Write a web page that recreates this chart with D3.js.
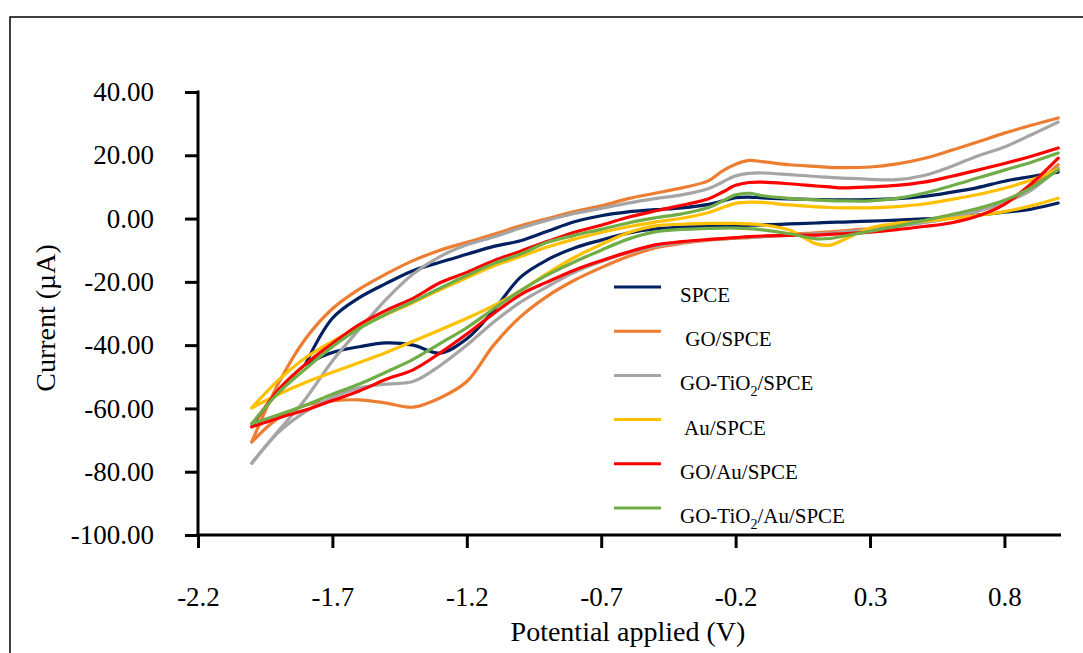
<!DOCTYPE html>
<html>
<head>
<meta charset="utf-8">
<script src="https://cdn.jsdelivr.net/npm/d3@7"></script>
<style>
  html, body { margin: 0; padding: 0; background: #fff; }
  svg { display: block; }
  text { font-family: "Liberation Serif", "Times New Roman", serif; fill: #000; }
</style>
</head>
<body>
<svg id="chart" width="1083" height="653"></svg>
<script>
// ---------- data ----------
const potential = [-2.0, -1.9, -1.8, -1.7, -1.6, -1.5, -1.4, -1.3, -1.2, -1.1, -1.0, -0.9, -0.8, -0.7, -0.6, -0.5, -0.4, -0.3, -0.25, -0.2, -0.15, -0.1, 0.0, 0.1, 0.15, 0.2, 0.3, 0.4, 0.5, 0.6, 0.7, 0.8, 0.9, 1.0];

const seriesNames = ["SPCE", " GO/SPCE", "GO-TiO2/SPCE", " Au/SPCE", "GO/Au/SPCE", "GO-TiO2/Au/SPCE"];
const seriesColors = ["#002060", "#ED7D31", "#A5A5A5", "#FFC000", "#FF0000", "#70AD47"];

// forward (upper) scan, current in µA
const spceFwd = [null, null, -46, -31.5, -25, -20.5, -16.5, -13.8, -11.3, -8.8, -7.0, -4.0, -1.0, 0.9, 2.1, 2.8, 3.4, 4.5, 5.5, 6.6, 6.8, 6.5, 6.2, 6.0, 5.9, 5.9, 6.0, 6.3, 7.0, 8.3, 9.8, 11.8, 13.3, 14.7];
const goFwd = [-70.6, -52, -38, -28.5, -22.3, -17.5, -13.3, -10, -7.5, -5, -2.3, 0, 2.2, 4, 6.3, 8, 9.7, 12, 15, 17.2, 18.4, 18, 17, 16.5, 16.2, 16.1, 16.3, 17.3, 19, 21.5, 24.2, 27, 29.5, 31.8];
const goTiFwd = [-77.3, -67, -57, -45, -35, -25.5, -17.5, -12, -8.3, -5.8, -3.0, -0.5, 1.6, 3.2, 4.9, 6.3, 7.5, 9.5, 11.5, 13.5, 14.3, 14.4, 13.9, 13.3, 13.0, 12.8, 12.4, 12.3, 13.6, 16.4, 19.8, 22.6, 26.5, 30.5];
const auFwd = [-59.8, -51, -44, -38.8, -34.3, -30.3, -26.5, -22.5, -18.7, -15, -12, -9, -6.5, -4.4, -2.6, -1.1, 0.1, 1.9, 3.4, 4.8, 5.2, 5.1, 4.3, 3.7, 3.5, 3.4, 3.4, 3.8, 4.6, 6.0, 7.6, 9.6, 12.2, 15.6];
const goAuFwd = [-65.8, -54, -46, -39.5, -33.5, -29, -25.2, -20.3, -17, -13.3, -10.3, -7.2, -4.3, -2.1, 0.4, 2.4, 4.2, 6.3, 8.3, 10.5, 11.4, 11.5, 11.0, 10.3, 10.0, 9.7, 10, 10.5, 11.5, 13.3, 15.3, 17.4, 19.7, 22.3];
const goTiAuFwd = [-64.8, -55, -47.5, -40.5, -34.7, -30.2, -26.2, -22, -18, -14.2, -11.2, -7.5, -5.3, -3.4, -1.4, 0.2, 1.5, 3.5, 5.5, 7.5, 8.0, 7.2, 6.4, 5.9, 5.7, 5.6, 5.6, 6.4, 8.0, 10.3, 12.8, 15.3, 17.8, 20.7];

// reverse (lower) scan, listed on the same potential grid
const spceRev = [null, null, -46, -42.3, -40.5, -39.3, -40, -42.5, -38, -29, -18.5, -13, -9.3, -6.8, -4.6, -3.3, -2.7, -2.5, -2.4, -2.3, -2.1, -2.0, -1.7, -1.4, -1.2, -1.1, -0.8, -0.5, -0.1, 0.4, 1.1, 2.0, 3.0, 4.9];
const goRev = [-70.6, -63, -59, -57.6, -57.3, -58.3, -59.6, -56.7, -51.5, -40, -31, -24.5, -19.5, -15.5, -12, -9.3, -7.8, -6.8, -6.5, -6.2, -6.0, -5.7, -5.0, -4.5, -4.2, -3.9, -3.2, -2.2, -1.0, 0.5, 2.5, 5.5, 10, 17];
const goTiRev = [-77.3, -67.5, -61, -56.5, -53.5, -52.3, -51.5, -46.5, -40, -32.7, -26.4, -21.5, -17, -13.6, -10.8, -8.8, -7.5, -6.7, -6.4, -6.1, -5.9, -5.7, -5.2, -4.8, -4.6, -4.3, -3.5, -2.5, -1.3, 0.2, 2.3, 5, 9, 16];
const auRev = [-59.8, -55.5, -51.8, -48.6, -45.5, -42.3, -38.8, -35.2, -31.5, -27.5, -22.8, -17.3, -12.3, -8.2, -4.5, -2.3, -1.8, -1.5, -1.5, -1.5, -1.7, -2.0, -3.6, -8.0, -8.4, -6.8, -3.0, -1.5, -0.8, 0.0, 1.0, 2.2, 4.0, 6.4];
const goAuRev = [-65.8, -63, -60.5, -57.5, -54.5, -50.8, -47.8, -42.5, -36.5, -30, -24, -20, -16.3, -13.3, -10.6, -8.3, -7.3, -6.6, -6.3, -6.0, -5.7, -5.5, -5.3, -5.2, -5.0, -4.8, -4.3, -3.5, -2.5, -1.4, 0.8, 4.5, 11, 19.1];
const goTiAuRev = [-64.8, -62, -59, -55.5, -52.3, -48.5, -44.5, -39.5, -34.5, -28.5, -22.8, -17.8, -13.7, -10, -6.5, -4.2, -3.4, -3.1, -3.0, -3.0, -3.2, -3.6, -4.8, -6.4, -6.3, -5.6, -4.0, -2.4, -0.6, 1.2, 3.2, 5.8, 9.8, 15.4];

const forwardScans = [spceFwd, goFwd, goTiFwd, auFwd, goAuFwd, goTiAuFwd];
const reverseScans = [spceRev, goRev, goTiRev, auRev, goAuRev, goTiAuRev];

const xTicks = [-2.2, -1.7, -1.2, -0.7, -0.2, 0.3, 0.8];
const yTicks = [40, 20, 0, -20, -40, -60, -80, -100];

// ---------- drawing ----------
const svg = d3.select("#chart");

// outer frame
svg.append("rect")
  .attr("x", 10).attr("y", 17).attr("width", 1090).attr("height", 660)
  .attr("fill", "none").attr("stroke", "#000").attr("stroke-width", 1.5);

const x = d3.scaleLinear().domain([-2.2, 1.0]).range([198, 1058.2]);
const y = d3.scaleLinear().domain([-100, 40]).range([535, 92]);

// y axis
const yAxis = d3.axisLeft(y).tickValues(yTicks).tickSize(13).tickPadding(31)
  .tickFormat(d => d.toFixed(2));
const gy = svg.append("g").attr("transform", "translate(198,0)").call(yAxis);
gy.select(".domain").remove();
gy.selectAll(".tick line").attr("stroke", "#000").attr("stroke-width", 3);
gy.selectAll(".tick text").attr("font-size", 27).attr("fill", "#000")
  .style("font-family", '"Liberation Serif", "Times New Roman", serif');
svg.append("line").attr("x1", 198).attr("x2", 198).attr("y1", y(40) - 1.5).attr("y2", y(-100) + 1.5)
  .attr("stroke", "#000").attr("stroke-width", 3);

// x axis
const xAxis = d3.axisBottom(x).tickValues(xTicks).tickSize(13).tickFormat(d => d.toFixed(1));
const gx = svg.append("g").attr("transform", "translate(0,535)").call(xAxis);
gx.select(".domain").remove();
gx.selectAll(".tick line").attr("stroke", "#000").attr("stroke-width", 3);
gx.selectAll(".tick text").attr("font-size", 27).attr("fill", "#000")
  .attr("y", 71).attr("dy", 0)
  .style("font-family", '"Liberation Serif", "Times New Roman", serif');
svg.append("line").attr("x1", 196.5).attr("x2", 1061).attr("y1", 535).attr("y2", 535)
  .attr("stroke", "#000").attr("stroke-width", 3);

// axis titles
svg.append("text").attr("x", 628).attr("y", 641).attr("text-anchor", "middle")
  .attr("font-size", 28).text("Potential applied (V)");
svg.append("text").attr("transform", "translate(55,318) rotate(-90)")
  .attr("text-anchor", "middle").attr("font-size", 28).text("Current (µA)");

// curves
const line = d3.line()
  .defined(d => d[1] !== null)
  .x(d => x(d[0])).y(d => y(d[1]))
  .curve(d3.curveCatmullRom.alpha(0.5));

const plot = svg.append("g").attr("fill", "none").attr("stroke-width", 3.2)
  .attr("stroke-linecap", "round").attr("stroke-linejoin", "round");

seriesNames.forEach((name, i) => {
  const fwd = potential.map((v, k) => [v, forwardScans[i][k]]).filter(d => d[1] !== null);
  const rev = potential.map((v, k) => [v, reverseScans[i][k]]).filter(d => d[1] !== null).reverse();
  plot.append("path").datum(rev).attr("d", line).attr("stroke", seriesColors[i]);
  plot.append("path").datum(fwd).attr("d", line).attr("stroke", seriesColors[i]);
});

// legend
const legend = svg.append("g");
seriesNames.forEach((name, i) => {
  const ly = 287 + i * 44.2;
  legend.append("line").attr("x1", 614).attr("x2", 661).attr("y1", ly).attr("y2", ly)
    .attr("stroke", seriesColors[i]).attr("stroke-width", 3);
  const t = legend.append("text").attr("x", 680).attr("y", ly + 15).attr("font-size", 21)
    .style("white-space", "pre");
  const parts = name.split("TiO2");
  if (parts.length > 1) {
    t.append("tspan").text(parts[0] + "TiO");
    t.append("tspan").attr("font-size", 14).attr("dy", 6).text("2");
    t.append("tspan").attr("dy", -6).text(parts[1]);
  } else {
    t.text(name);
  }
});
</script>
</body>
</html>
